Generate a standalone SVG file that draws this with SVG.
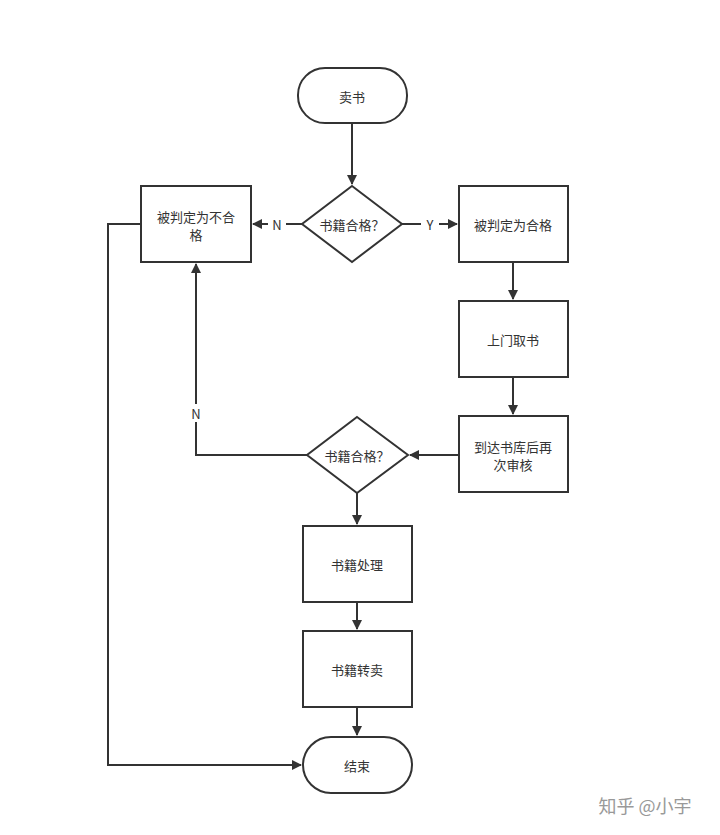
<svg xmlns="http://www.w3.org/2000/svg" width="720" height="835" viewBox="0 0 720 835">
<style>
.n{fill:#fff;stroke:#333;stroke-width:2}
.t{font-family:"Noto Sans CJK SC","Liberation Sans",sans-serif;font-size:13px;fill:#333;text-anchor:middle;dominant-baseline:central}
.c{fill:none;stroke:#333;stroke-width:2}
</style>
<defs><marker id="a" viewBox="0 0 10 10" refX="9" refY="5" markerWidth="5" markerHeight="5" orient="auto"><path d="M0,0L10,5L0,10z" fill="#333"/></marker></defs>
<rect width="720" height="835" fill="#fff"/>
<g id="connectors">
<path class="c" d="M352,123V184" marker-end="url(#a)"/>
<path class="c" d="M302,224H253" marker-end="url(#a)"/>
<path class="c" d="M402,224H457" marker-end="url(#a)"/>
<path class="c" d="M513,262V299" marker-end="url(#a)"/>
<path class="c" d="M513,377V414" marker-end="url(#a)"/>
<path class="c" d="M459,455H410" marker-end="url(#a)"/>
<path class="c" d="M307,455H196V264" marker-end="url(#a)"/>
<path class="c" d="M357,493V524" marker-end="url(#a)"/>
<path class="c" d="M357,602V629" marker-end="url(#a)"/>
<path class="c" d="M357,707V735" marker-end="url(#a)"/>
<path class="c" d="M141,224H108V765H301" marker-end="url(#a)"/>
<rect x="268" y="215" width="18" height="18" fill="#fff"/><text class="t" x="277" y="224">N</text>
<rect x="421" y="215" width="18" height="18" fill="#fff"/><text class="t" x="430" y="224">Y</text>
<rect x="187" y="404" width="18" height="18" fill="#fff"/><text class="t" x="196" y="413">N</text>
</g>
<g id="start"><rect class="n" x="298" y="68" width="109" height="55" rx="27"/><text class="t" x="352" y="96">卖书</text></g>
<g id="d1"><path class="n" d="M352,186L402,224L352,262L302,224z"/><text class="t" x="352" y="224">书籍合格？</text></g>
<g id="fail"><rect class="n" x="141" y="186" width="110" height="76"/><text class="t" x="196" y="216">被判定为不合</text><text class="t" x="196" y="234">格</text></g>
<g id="pass"><rect class="n" x="459" y="186" width="109" height="76"/><text class="t" x="513" y="224">被判定为合格</text></g>
<g id="pickup"><rect class="n" x="459" y="301" width="109" height="76"/><text class="t" x="513" y="339">上门取书</text></g>
<g id="recheck"><rect class="n" x="459" y="416" width="109" height="76"/><text class="t" x="513" y="446">到达书库后再</text><text class="t" x="513" y="464">次审核</text></g>
<g id="d2"><path class="n" d="M357,417L408,455L357,493L307,455z"/><text class="t" x="357" y="455">书籍合格？</text></g>
<g id="process"><rect class="n" x="303" y="526" width="109" height="76"/><text class="t" x="357" y="564">书籍处理</text></g>
<g id="resell"><rect class="n" x="303" y="631" width="109" height="76"/><text class="t" x="357" y="669">书籍转卖</text></g>
<g id="end"><rect class="n" x="303" y="737" width="109" height="56" rx="28"/><text class="t" x="357" y="765">结束</text></g>
<text x="645" y="805" style="font-family:'Noto Sans CJK SC',sans-serif;font-size:18px;fill:#999;text-anchor:middle;dominant-baseline:central">知乎 @小宇</text>
</svg>
